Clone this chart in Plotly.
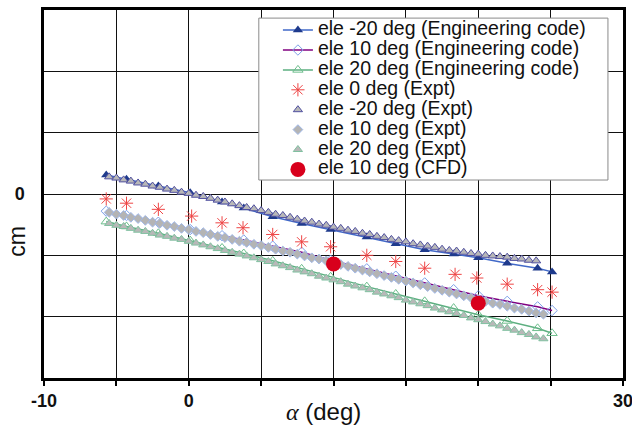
import plotly.graph_objects as go

# Angle of attack (deg) at which the engineering code and the ele 0 deg runs were evaluated
alpha_code = [-5.7, -4.3, -2.1, 0.1, 2.3, 3.8, 5.8, 7.8, 9.8, 12.3, 14.3,
              16.3, 18.3, 20.0, 22.0, 24.1, 25.1]

# Engineering code predictions (cm)
code_m20 = [0.31, 0.24, 0.13, 0.02, -0.13, -0.23, -0.37, -0.48, -0.58, -0.70,
            -0.81, -0.91, -0.98, -1.04, -1.13, -1.21, -1.27]
code_p10 = [-0.28, -0.35, -0.46, -0.58, -0.68, -0.75, -0.85, -0.95, -1.08, -1.22,
            -1.34, -1.45, -1.56, -1.66, -1.75, -1.84, -1.90]
code_p20 = [-0.45, -0.53, -0.64, -0.76, -0.88, -0.97, -1.09, -1.22, -1.35, -1.51,
            -1.63, -1.75, -1.86, -1.97, -2.07, -2.19, -2.27]

# Experiment, elevator 0 deg
alpha_e0 = [-5.7, -4.3, -2.1, 0.2, 2.3, 3.75, 5.8, 7.8, 9.8, 12.3, 14.3,
            16.3, 18.4, 19.9, 22.0, 24.1, 25.1]
expt_0 = [-0.08, -0.15, -0.25, -0.36, -0.47, -0.55, -0.66, -0.78, -0.86, -1.00,
          -1.10, -1.21, -1.31, -1.37, -1.47, -1.56, -1.60]

# Experiment sweeps (0.5 deg steps)
alpha_expt = [-5.5, -5.0, -4.5, -4.0, -3.5, -3.0, -2.5, -2.0, -1.5, -1.0, -0.5,
              0.0, 0.5, 1.0, 1.5, 2.0, 2.5, 3.0, 3.5, 4.0, 4.5, 5.0, 5.5, 6.0,
              6.5, 7.0, 7.5, 8.0, 8.5, 9.0, 9.5, 10.0, 10.5, 11.0, 11.5, 12.0,
              12.5, 13.0, 13.5, 14.0, 14.5, 15.0, 15.5, 16.0, 16.5, 17.0, 17.5,
              18.0, 18.5, 19.0, 19.5, 20.0, 20.5, 21.0, 21.5, 22.0, 22.5, 23.0,
              23.5, 24.0, 24.5]
expt_m20 = [0.28, 0.26, 0.23, 0.21, 0.18, 0.16, 0.13, 0.11, 0.08, 0.06, 0.03,
            0.01, -0.02, -0.04, -0.07, -0.10, -0.13, -0.16, -0.19, -0.22, -0.24,
            -0.27, -0.30, -0.33, -0.35, -0.38, -0.41, -0.44, -0.46, -0.49, -0.51,
            -0.54, -0.56, -0.59, -0.61, -0.64, -0.66, -0.69, -0.71, -0.74, -0.76,
            -0.78, -0.81, -0.83, -0.85, -0.87, -0.90, -0.92, -0.93, -0.95, -0.97,
            -0.98, -1.00, -1.01, -1.02, -1.03, -1.05, -1.06, -1.08, -1.09, None]
expt_p10 = [-0.30, -0.33, -0.35, -0.38, -0.40, -0.43, -0.46, -0.48, -0.51, -0.53,
            -0.56, -0.58, -0.61, -0.63, -0.66, -0.69, -0.71, -0.74, -0.77, -0.79,
            -0.82, -0.84, -0.87, -0.90, -0.93, -0.95, -0.98, -1.01, -1.04, -1.06,
            -1.09, -1.12, -1.15, -1.18, -1.21, -1.24, -1.27, -1.30, -1.33, -1.36,
            -1.39, -1.42, -1.45, -1.48, -1.51, -1.54, -1.57, -1.60, -1.63, -1.66,
            -1.69, -1.72, -1.75, -1.78, -1.80, -1.83, -1.86, -1.88, -1.91, -1.94,
            -1.96]
expt_p20 = [-0.48, -0.51, -0.53, -0.56, -0.59, -0.61, -0.64, -0.67, -0.69, -0.72,
            -0.74, -0.77, -0.80, -0.83, -0.86, -0.89, -0.92, -0.95, -0.98, -1.01,
            -1.04, -1.07, -1.10, -1.14, -1.17, -1.20, -1.24, -1.27, -1.30, -1.34,
            -1.37, -1.40, -1.43, -1.47, -1.50, -1.53, -1.56, -1.60, -1.63, -1.66,
            -1.69, -1.73, -1.76, -1.79, -1.82, -1.86, -1.89, -1.92, -1.95, -1.98,
            -2.02, -2.05, -2.08, -2.12, -2.15, -2.19, -2.22, -2.26, -2.29, -2.33,
            -2.36]

# CFD results, elevator 10 deg
alpha_cfd = [10.0, 20.0]
cfd_p10 = [-1.14, -1.78]

# Axis ticks
x_ticks = [-10, -5, 0, 5, 10, 15, 20, 25, 30]
x_tick_text = ["-10", "", "0", "", "", "", "", "", "30"]
y_ticks = [-3, -2, -1, 0, 1, 2, 3]
y_tick_text = ["", "", "", "0", "", "", ""]

FONT = "Liberation Sans, Arial, sans-serif"


def label(text):
    return f'<span style="font-size:19.5px">{text}</span>'


fig = go.Figure()

fig.add_trace(go.Scatter(
    x=alpha_code, y=code_m20, mode="lines+markers",
    name=label("ele -20 deg (Engineering code)"),
    line=dict(color="#4169C8", width=1.5),
    marker=dict(symbol="triangle-up", size=9, color="#1E3A8C")))
fig.add_trace(go.Scatter(
    x=alpha_code, y=code_p10, mode="lines+markers",
    name=label("ele 10 deg (Engineering code)"),
    line=dict(color="#800080", width=1.5),
    marker=dict(symbol="diamond-open", size=8, color="#7DA0E8",
                line=dict(width=1))))
fig.add_trace(go.Scatter(
    x=alpha_code, y=code_p20, mode="lines+markers",
    name=label("ele 20 deg (Engineering code)"),
    line=dict(color="#5DAF80", width=1.5),
    marker=dict(symbol="triangle-up-open", size=9, color="#6DBE8C",
                line=dict(width=1))))
fig.add_trace(go.Scatter(
    x=alpha_e0, y=expt_0, mode="markers",
    name=label("ele 0 deg (Expt)"),
    marker=dict(symbol="asterisk-open", size=11, color="#EE4444",
                line=dict(width=1, color="#EE4444"))))
fig.add_trace(go.Scatter(
    x=alpha_expt, y=expt_m20, mode="markers",
    name=label("ele -20 deg (Expt)"),
    marker=dict(symbol="triangle-up", size=8, color="#B8B8B8",
                line=dict(width=1, color="#5050A0"))))
fig.add_trace(go.Scatter(
    x=alpha_expt, y=expt_p10, mode="markers",
    name=label("ele 10 deg (Expt)"),
    marker=dict(symbol="diamond", size=7.5, color="#B4B4B4",
                line=dict(width=1, color="#A0B8E8"))))
fig.add_trace(go.Scatter(
    x=alpha_expt, y=expt_p20, mode="markers",
    name=label("ele 20 deg (Expt)"),
    marker=dict(symbol="triangle-up", size=8, color="#B8B8B8",
                line=dict(width=1, color="#80C0A0"))))
fig.add_trace(go.Scatter(
    x=alpha_cfd, y=cfd_p10, mode="markers",
    name=label("ele 10 deg (CFD)"),
    marker=dict(symbol="circle", size=15, color="#D8001C")))

axis_common = dict(
    showgrid=True, gridcolor="#111111", gridwidth=1,
    showline=True, linecolor="#000000", linewidth=2.5, mirror=True,
    zeroline=False, automargin=False,
    tickfont=dict(family=FONT, size=18, color="#111111", weight="bold"),
)

fig.update_xaxes(range=[-10, 30], tickmode="array", tickvals=x_ticks,
                 ticktext=x_tick_text, ticks="outside", ticklen=5,
                 tickwidth=2, tickcolor="#000000", ticklabelstandoff=0,
                 ticklabeloverflow="allow", **axis_common)
fig.update_yaxes(range=[-3, 3], tickmode="array", tickvals=y_ticks,
                 ticktext=y_tick_text, ticks="", ticklabelstandoff=13,
                 **axis_common)

# Legend frame, drawn over the grid
fig.add_shape(type="rect", xref="paper", yref="paper",
              x0=0.371, x1=0.974, y0=0.538, y1=0.978,
              line=dict(color="#8A8A8A", width=1), fillcolor="white",
              layer="above")

fig.add_annotation(
    text='<span style="font-family:Liberation Serif"><i>α</i></span> (deg)',
    xref="paper", yref="paper", x=0.482, y=-0.092,
    xanchor="center", yanchor="middle", showarrow=False,
    font=dict(family=FONT, size=24, color="#111111"))
fig.add_annotation(
    text="cm", xref="paper", yref="paper", x=-0.0466, y=0.37,
    xanchor="center", yanchor="middle", showarrow=False, textangle=-90,
    font=dict(family=FONT, size=23, color="#111111"))

fig.update_layout(
    width=632, height=430,
    margin=dict(l=44, r=9, t=10, b=52, autoexpand=False),
    paper_bgcolor="white", plot_bgcolor="white",
    showlegend=True,
    legend=dict(x=0.404, y=0.986, xanchor="left", yanchor="top",
                bgcolor="rgba(0,0,0,0)", borderwidth=0,
                font=dict(family=FONT, size=13, color="#111111"),
                tracegroupgap=0),
)

fig.write_html("out.html")
